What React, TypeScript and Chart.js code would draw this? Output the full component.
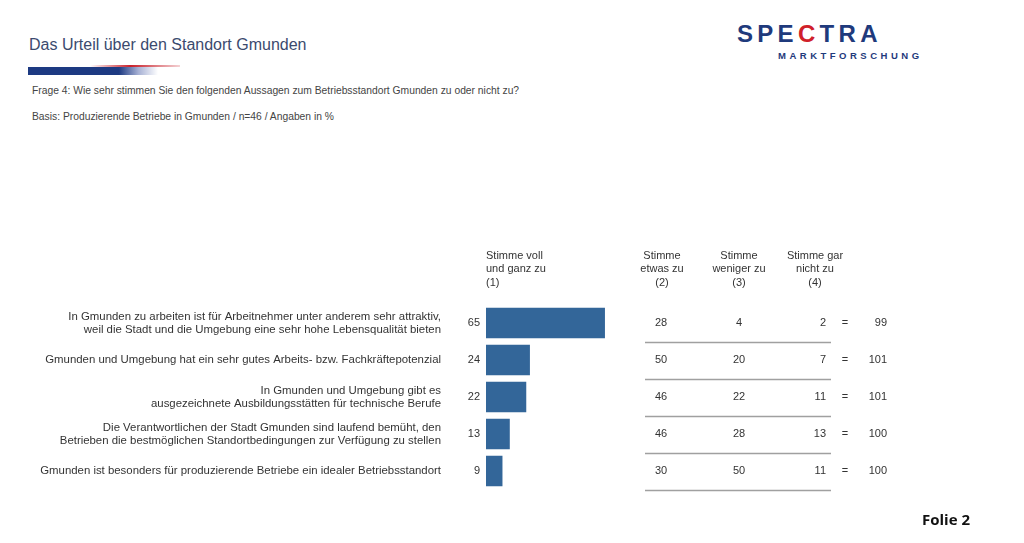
import React, { useEffect, useRef } from "react";
import { Chart, registerables } from "chart.js";

Chart.register(...registerables);

const statements: string[][] = [
  ["In Gmunden zu arbeiten ist für Arbeitnehmer unter anderem sehr attraktiv,", "weil die Stadt und die Umgebung eine sehr hohe Lebensqualität bieten"],
  ["Gmunden und Umgebung hat ein sehr gutes Arbeits- bzw. Fachkräftepotenzial"],
  ["In Gmunden und Umgebung gibt es", "ausgezeichnete Ausbildungsstätten für technische Berufe"],
  ["Die Verantwortlichen der Stadt Gmunden sind laufend bemüht, den", "Betrieben die bestmöglichen Standortbedingungen zur Verfügung zu stellen"],
  ["Gmunden ist besonders für produzierende Betriebe ein idealer Betriebsstandort"],
];
const stimmeVoll = [65, 24, 22, 13, 9];
const stimmeEtwas = [28, 50, 46, 46, 30];
const stimmeWeniger = [4, 20, 22, 28, 50];
const stimmeGarNicht = [2, 7, 11, 13, 11];
const totals = [99, 101, 101, 100, 100];
const headerVoll = ["Stimme voll", "und ganz zu", "(1)"];
const headerEtwas = ["Stimme", "etwas zu", "(2)"];
const headerWeniger = ["Stimme", "weniger zu", "(3)"];
const headerGarNicht = ["Stimme gar", "nicht zu", "(4)"];

const FONT = "'Liberation Sans', Arial, sans-serif";
const TEXT = "#333333";

const tablePlugin = {
  id: "tablePlugin",
  afterDraw(chart: any) {
    const ctx = chart.ctx as CanvasRenderingContext2D;
    const y = chart.scales.y;
    const area = chart.chartArea;
    ctx.save();
    ctx.font = `11px ${FONT}`;
    ctx.fillStyle = TEXT;
    ctx.textBaseline = "middle";
    const step = y.getPixelForValue(1) - y.getPixelForValue(0);
    stimmeVoll.forEach((v, i) => {
      const cy = y.getPixelForValue(i);
      ctx.textAlign = "right";
      ctx.fillText(String(v), area.left - 6, cy);
      ctx.textAlign = "center";
      ctx.fillText(String(stimmeEtwas[i]), 661, cy);
      ctx.fillText(String(stimmeWeniger[i]), 739, cy);
      ctx.textAlign = "right";
      ctx.fillText(String(stimmeGarNicht[i]), 826, cy);
      ctx.textAlign = "center";
      ctx.fillText("=", 845, cy);
      ctx.textAlign = "right";
      ctx.fillText(String(totals[i]), 887, cy);
      const ly = Math.round(cy + step / 2) + 0.5;
      ctx.strokeStyle = "#a0a0a0";
      ctx.lineWidth = 1.5;
      ctx.beginPath();
      ctx.moveTo(645, ly);
      ctx.lineTo(831, ly);
      ctx.stroke();
    });
    const hy = [256, 269, 283];
    headerVoll.forEach((t, k) => {
      ctx.textAlign = "left";
      ctx.fillText(t, area.left, hy[k]);
    });
    const cols: [string[], number][] = [
      [headerEtwas, 662],
      [headerWeniger, 739],
      [headerGarNicht, 815],
    ];
    cols.forEach(([lines, x]) => {
      lines.forEach((t, k) => {
        ctx.textAlign = "center";
        ctx.fillText(t, x, hy[k]);
      });
    });
    ctx.restore();
  },
};

export default function App() {
  const ref = useRef<HTMLCanvasElement>(null);
  useEffect(() => {
    if (!ref.current) return;
    const chart = new Chart(ref.current, {
      type: "bar",
      data: {
        labels: statements,
        datasets: [
          {
            data: stimmeVoll,
            backgroundColor: "#336699",
            borderWidth: 0,
            barPercentage: 0.82,
            categoryPercentage: 1,
          },
        ],
      },
      options: {
        indexAxis: "y",
        responsive: false,
        animation: false,
        layout: { padding: { top: 304.5, bottom: 53.5, right: 355, left: 0 } },
        plugins: { legend: { display: false }, tooltip: { enabled: false }, title: { display: false } },
        scales: {
          x: { display: false, min: 0, max: 100 },
          y: {
            grid: { display: false, drawTicks: false },
            border: { display: false },
            ticks: { padding: 45, color: TEXT, font: { family: FONT, size: 11.4, lineHeight: 1.15 }, autoSkip: false },
            afterFit: (scale: any) => {
              scale.width = 486;
              scale.paddingTop = 0;
              scale.paddingBottom = 0;
            },
          },
        },
      },
      plugins: [tablePlugin],
    });
    return () => chart.destroy();
  }, []);

  return (
    <div style={{ position: "absolute", left: 0, top: 0, width: 1024, height: 543, background: "#fff", fontFamily: FONT, overflow: "hidden" }}>
      <div style={{ position: "absolute", left: 29, top: 36, fontSize: 16, color: "#3b4a6e", whiteSpace: "nowrap" }}>
        Das Urteil über den Standort Gmunden
      </div>
      <div style={{ position: "absolute", left: 28, top: 67, width: 130, height: 8, background: "linear-gradient(to right, #1d3a82 0%, #1d3a82 70%, rgba(80,100,170,0.5) 85%, rgba(255,255,255,0) 100%)" }} />
      <div style={{ position: "absolute", left: 90, top: 65, width: 90, height: 2, background: "linear-gradient(to right, rgba(200,30,40,0) 0%, #c8202a 45%, rgba(200,30,40,0.2) 100%)" }} />
      <div style={{ position: "absolute", left: 32, top: 85, fontSize: 10.3, color: "#444", whiteSpace: "nowrap" }}>
        Frage 4: Wie sehr stimmen Sie den folgenden Aussagen zum Betriebsstandort Gmunden zu oder nicht zu?
      </div>
      <div style={{ position: "absolute", left: 32, top: 111, fontSize: 10.3, color: "#444", whiteSpace: "nowrap" }}>
        Basis: Produzierende Betriebe in Gmunden / n=46 / Angaben in %
      </div>
      <div style={{ position: "absolute", left: 737, top: 21, fontSize: 24, fontWeight: "bold", color: "#1f3a7c", letterSpacing: 4.3, whiteSpace: "nowrap", lineHeight: "26px" }}>
        SPE<span style={{ color: "#d0202a" }}>C</span>TRA
      </div>
      <div style={{ position: "absolute", left: 778, top: 50, fontSize: 9.5, fontWeight: "bold", color: "#1f3a7c", letterSpacing: 3.5, whiteSpace: "nowrap" }}>
        MARKTFORSCHUNG
      </div>
      <canvas ref={ref} width={1024} height={543} style={{ position: "absolute", left: 0, top: 0 }} />
      <div style={{ position: "absolute", left: 922, top: 509, fontSize: 15, fontWeight: "bold", color: "#111", whiteSpace: "nowrap", fontFamily: "'Open Sans', sans-serif" }}>
        Folie 2
      </div>
    </div>
  );
}
